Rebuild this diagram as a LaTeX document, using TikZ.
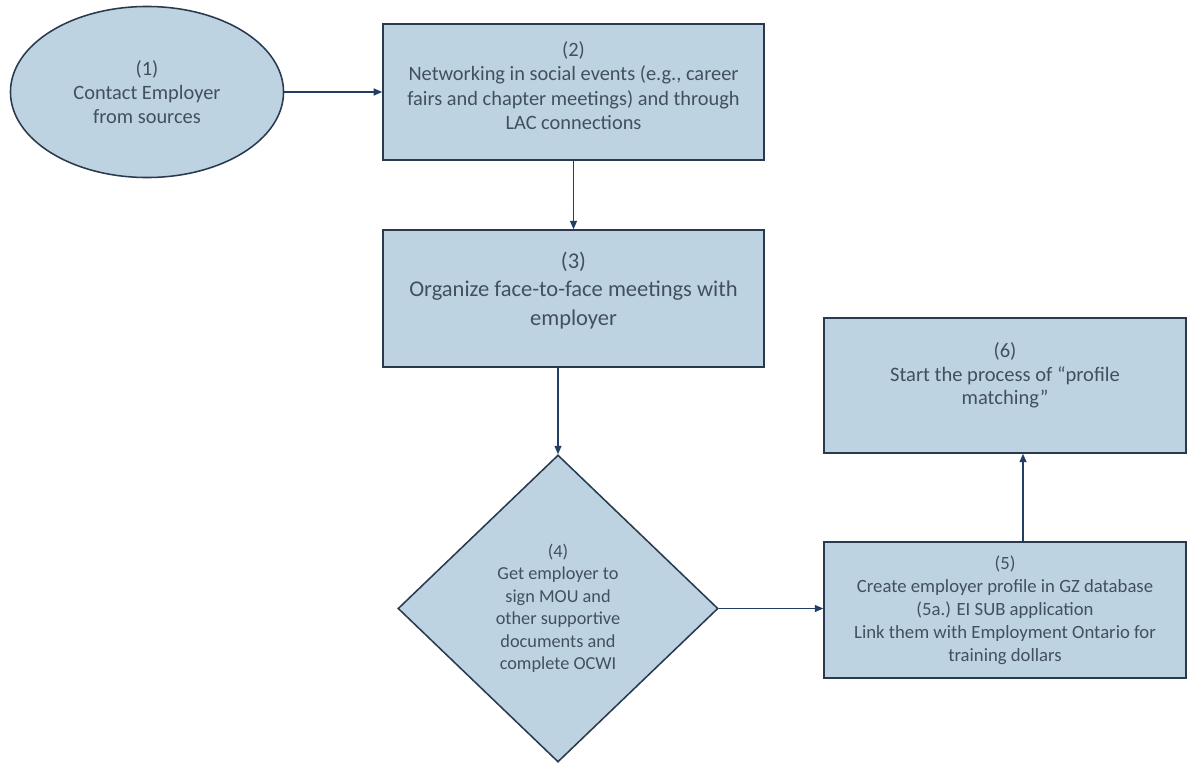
\documentclass[tikz,border=0pt]{standalone}
\usepackage{fontspec}
\setmainfont{Carlito}
\usetikzlibrary{arrows.meta,shapes.geometric}

\definecolor{boxfill}{RGB}{189,211,226}
\definecolor{boxline}{RGB}{42,58,78}
\definecolor{boxtext}{RGB}{66,80,94}
\definecolor{arrline}{RGB}{35,62,100}

\begin{document}
\begin{tikzpicture}[x=0.025cm, y=-0.025cm,
  box/.style={draw=boxline, line width=1.1pt, fill=boxfill, text=boxtext,
              align=center, inner sep=2pt, font=\fontsize{14.5}{17.4}\selectfont},
  arr/.style={-{Triangle[length=6pt,width=5pt]}, draw=arrline, line width=0.9pt}]
\useasboundingbox (0,0) rectangle (1187,763);
\node[box, ellipse, minimum width=6.825cm, minimum height=4.275cm,
      font=\fontsize{14.5}{17}\selectfont] (e1) at (147,92) {(1)\\Contact Employer\\from sources};
\node[box, minimum width=9.525cm, minimum height=3.4cm] (b2) at (573.5,92)
  {(2)\\Networking in social events (e.g., career\\fairs and chapter meetings) and through\\LAC connections\\[-8pt]\mbox{}};
\node[box, minimum width=9.525cm, minimum height=3.425cm,
      font=\fontsize{16}{20.3}\selectfont] (b3) at (573.5,298.5)
  {(3)\\Organize face-to-face meetings with\\employer\\[-6pt]\mbox{}};
\node[box, diamond, aspect=1.04, minimum width=8cm, minimum height=7.675cm, inner sep=0pt,
      font=\fontsize{13}{16}\selectfont] (d4) at (558,608.5)
  {(4)\\Get employer to\\sign MOU and\\other supportive\\documents and\\complete OCWI};
\node[box, minimum width=9.05cm, minimum height=3.4cm,
      font=\fontsize{13.3}{16.4}\selectfont] (b5) at (1005,610)
  {(5)\\Create employer profile in GZ database\\(5a.) EI SUB application\\Link them with Employment Ontario for\\training dollars};
\node[box, minimum width=9.05cm, minimum height=3.375cm,
      font=\fontsize{14.6}{17}\selectfont] (b6) at (1005,385.5)
  {(6)\\Start the process of ``profile\\matching''\\\mbox{}};
\draw[arr] (e1) -- (b2);
\draw[arr] (b2) -- (b3);
\draw[arr] (b3.south -| d4.north) -- (d4.north);
\draw[arr] (d4.east) -- (d4.east -| b5.west);
\draw[arr] ([xshift=4.5mm]b5.north) -- ([xshift=4.5mm]b6.south);
\end{tikzpicture}
\end{document}
